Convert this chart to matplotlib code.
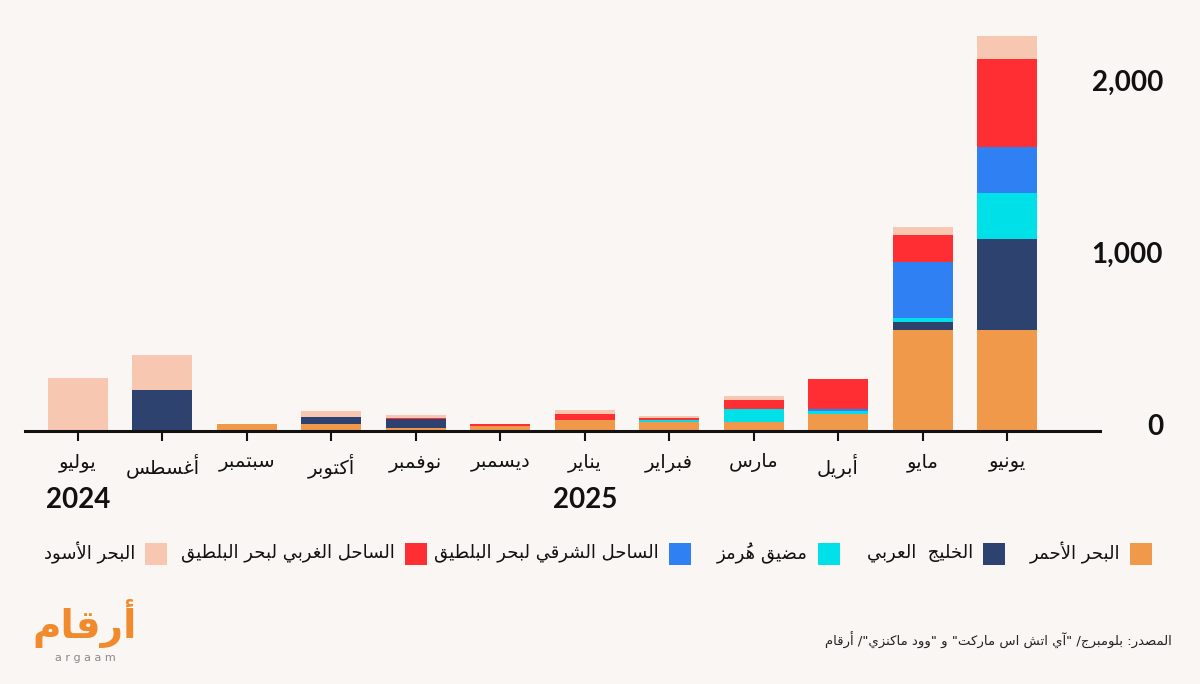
import unicodedata
import matplotlib
matplotlib.use("Agg")
import matplotlib.pyplot as plt
from matplotlib.patches import Rectangle
from matplotlib.transforms import blended_transform_factory
import numpy as np

# months, Jul 2024 -> Jun 2025
months = ["يوليو", "أغسطس", "سبتمبر", "أكتوبر", "نوفمبر", "ديسمبر",
          "يناير", "فبراير", "مارس", "أبريل", "مايو", "يونيو"]
years = ["2024", "2025"]

# series, bottom of the stack first
series_names = ["البحر الأحمر", "الخليج  العربي", "مضيق هُرمز",
                "الساحل الشرقي لبحر البلطيق", "الساحل الغربي لبحر البلطيق", "البحر الأسود"]
red_sea     = [0,   0,   39, 39, 19, 27, 62, 52, 52,  101, 589, 590]
arab_gulf   = [0,   237, 0,  42, 48, 0,  0,  0,  0,   0,   47,  529]
hormuz      = [0,   0,   0,  0,  0,  0,  0,  13, 77,  16,  23,  267]
east_baltic = [0,   0,   0,  0,  0,  0,  0,  0,  0,   13,  322, 267]
west_baltic = [0,   0,   0,  0,  8,  16, 35, 13, 52,  174, 161, 512]
black_sea   = [308, 205, 0,  35, 16, 0,  23, 12, 25,  0,   45,  134]
colors = ["#F0994B", "#2E4270", "#00E0E8", "#2F80F2", "#FF2E33", "#F7C7B2"]
yticks = [0, 1000, 2000]
source = 'المصدر: بلومبرج/ "آي اتش اس ماركت" و "وود ماكنزي"/ أرقام'

BG = "#F9F6F3"

# --- tiny arabic shaper (matplotlib has no arabic text layout) ---
FORMS = {
    "ء": (0xFE80, 1), "آ": (0xFE81, 2), "أ": (0xFE83, 2), "ؤ": (0xFE85, 2),
    "إ": (0xFE87, 2), "ئ": (0xFE89, 4), "ا": (0xFE8D, 2), "ب": (0xFE8F, 4),
    "ة": (0xFE93, 2), "ت": (0xFE95, 4), "ث": (0xFE99, 4), "ج": (0xFE9D, 4),
    "ح": (0xFEA1, 4), "خ": (0xFEA5, 4), "د": (0xFEA9, 2), "ذ": (0xFEAB, 2),
    "ر": (0xFEAD, 2), "ز": (0xFEAF, 2), "س": (0xFEB1, 4), "ش": (0xFEB5, 4),
    "ص": (0xFEB9, 4), "ض": (0xFEBD, 4), "ط": (0xFEC1, 4), "ظ": (0xFEC5, 4),
    "ع": (0xFEC9, 4), "غ": (0xFECD, 4), "ف": (0xFED1, 4), "ق": (0xFED5, 4),
    "ك": (0xFED9, 4), "ل": (0xFEDD, 4), "م": (0xFEE1, 4), "ن": (0xFEE5, 4),
    "ه": (0xFEE9, 4), "و": (0xFEED, 2), "ى": (0xFEEF, 2), "ي": (0xFEF1, 4),
}
LAM_ALEF = {"آ": 0xFEF5, "أ": 0xFEF7, "إ": 0xFEF9, "ا": 0xFEFB}


def ar(s):
    clusters = []
    for ch in s:
        if unicodedata.category(ch) == "Mn" and clusters:
            clusters[-1][1] += ch
        else:
            clusters.append([ch, ""])
    merged = []
    i = 0
    while i < len(clusters):
        b, m = clusters[i]
        if b == "ل" and i + 1 < len(clusters) and clusters[i + 1][0] in LAM_ALEF:
            merged.append(["LA" + clusters[i + 1][0], m + clusters[i + 1][1]])
            i += 2
        else:
            merged.append([b, m])
            i += 1

    def joins_next(b):
        return b in FORMS and FORMS[b][1] == 4

    def is_letter(b):
        return b in FORMS or b.startswith("LA")

    out = []
    for i, (b, m) in enumerate(merged):
        p = i > 0 and joins_next(merged[i - 1][0])
        nxt = merged[i + 1][0] if i + 1 < len(merged) else None
        if b.startswith("LA"):
            g = chr(LAM_ALEF[b[2]] + (1 if p else 0))
        elif b in FORMS:
            base, n = FORMS[b]
            nx = n == 4 and nxt is not None and is_letter(nxt)
            if n == 1:
                g = chr(base)
            elif p and nx:
                g = chr(base + 3)
            elif nx:
                g = chr(base + 2)
            elif p:
                g = chr(base + 1)
            else:
                g = chr(base)
        else:
            g = b
        # mark first: it is drawn with zero advance over the next glyph
        out.append(m + g)
    return "".join(reversed(out))


W, H = 1200, 684
fig = plt.figure(figsize=(W / 100, H / 100), dpi=100)
fig.patch.set_facecolor(BG)


def fx(x):
    return x / W


def fy(y):
    return 1 - y / H


# axes box in pixels: x 25..1100, y 20..431 (top-down)
ax = fig.add_axes([fx(25), fy(431), (1100 - 25) / W, (431 - 20) / H])
ax.set_facecolor(BG)
px_per_unit = 172 / 1000
ax.set_ylim(0, (431 - 20) / px_per_unit)
step = 84.45
ax.set_xlim((25 - 78) / step, (1100 - 78) / step)

x = np.arange(len(months))
stack = [red_sea, arab_gulf, hormuz, east_baltic, west_baltic, black_sea]
bottom = np.zeros(len(months))
for vals, c in zip(stack, colors):
    vals = np.array(vals, dtype=float)
    ax.bar(x, vals, width=60 / step, bottom=bottom, color=c, linewidth=0, zorder=2)
    bottom += vals

for s in ["top", "left", "right"]:
    ax.spines[s].set_visible(False)
ax.spines["bottom"].set_linewidth(2.2)
ax.spines["bottom"].set_color("#111111")
ax.spines["bottom"].set_zorder(3)
ax.set_yticks([])
ax.set_xticks(x)
ax.set_xticklabels([ar(m) for m in months], fontsize=14, family="DejaVu Sans",
                   color="#111111")
ax.tick_params(axis="x", length=7, width=1.5, color="#111111", pad=9)

# y labels sit right of the plot
ytrans = blended_transform_factory(fig.transFigure, ax.transData)
for v in yticks:
    ax.text(fx(1163), v + 25, f"{v:,}", transform=ytrans, ha="right", va="center",
            fontsize=20, fontweight="bold", family="Lato", color="#111111")

fig.text(fx(78), fy(500), years[0], ha="center", va="center", fontsize=20,
         fontweight="bold", family="Lato", color="#111111")
fig.text(fx(585), fy(500), years[1], ha="center", va="center", fontsize=20,
         fontweight="bold", family="Lato", color="#111111")

# legend, right to left
sq_x = [1130, 983, 818, 669, 405, 145]
for name, c, sx in zip(series_names, colors, sq_x):
    fig.add_artist(Rectangle((fx(sx), fy(565)), 22 / W, 22 / H, transform=fig.transFigure,
                             facecolor=c, edgecolor="none"))
    fig.text(fx(sx - 10), fy(553), ar(name), ha="right", va="center", fontsize=13,
             family="DejaVu Sans", color="#111111")

# source line
fig.text(fx(1172), fy(640), ar(source), ha="right", va="center", fontsize=9.5,
         family="DejaVu Sans", color="#222222")

# logo
fig.text(fx(85), fy(624), ar("أرقام"), ha="center", va="center", fontsize=28,
         fontweight="bold", family="DejaVu Sans", color="#F08A2C")
fig.text(fx(85), fy(658), "a r g a a m", ha="center", va="center", fontsize=8,
         family="DejaVu Sans", color="#8A8A8A")

fig.savefig("out.png", dpi=100, facecolor=BG)
